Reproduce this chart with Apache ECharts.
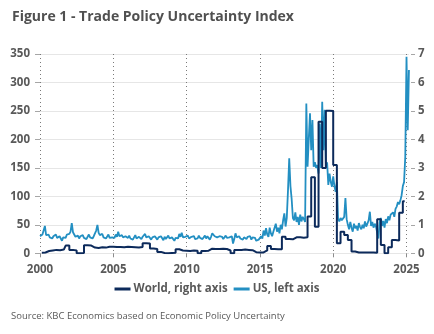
<!DOCTYPE html>
<html>
<head>
<meta charset="utf-8">
<script src="https://cdn.jsdelivr.net/npm/echarts@6/dist/echarts.min.js"></script>
<style>
  html, body { margin: 0; padding: 0; background: #ffffff; }
  #chart { width: 434px; height: 334px; }
</style>
</head>
<body>
<div id="chart"></div>
<script>
// US trade policy uncertainty, monthly from Jan 2000 (left axis)
const usStartYear = 2000;
const usMonthly = [
  // 2000
  30, 27, 33, 36, 48, 32, 29, 33, 28, 31, 26, 30,
  // 2001
  29, 33, 27, 24, 30, 26, 22, 28, 31, 27, 33, 30,
  // 2002
  34, 38, 53, 37, 33, 29, 27, 31, 26, 30, 28, 32,
  // 2003
  27, 30, 25, 29, 33, 28, 31, 26, 30, 35, 40, 50,
  // 2004
  36, 32, 30, 34, 28, 31, 26, 29, 33, 27, 30, 28,
  // 2005
  31, 27, 33, 29, 38, 30, 27, 32, 28, 26, 30, 29,
  // 2006
  27, 31, 26, 29, 24, 28, 32, 26, 23, 29, 27, 25,
  // 2007
  29, 26, 34, 28, 25, 30, 27, 24, 28, 26, 30, 27,
  // 2008
  24, 28, 26, 30, 27, 23, 29, 25, 28, 31, 26, 24,
  // 2009
  28, 25, 22, 27, 30, 26, 34, 29, 36, 28, 25, 29,
  // 2010
  27, 31, 26, 24, 29, 27, 30, 25, 28, 26, 31, 27,
  // 2011
  29, 25, 28, 31, 26, 30, 27, 24, 29, 35, 37, 30,
  // 2012
  33, 28, 26, 30, 27, 29, 25, 28, 31, 27, 24, 28,
  // 2013
  26, 30, 17, 25, 35, 28, 27, 30, 26, 29, 24, 28,
  // 2014
  27, 25, 29, 26, 30, 24, 28, 25, 27, 22, 20, 24,
  // 2015
  24, 30, 26, 40, 31, 44, 33, 29, 45, 35, 30, 38,
  // 2016
  40, 52, 38, 45, 35, 50, 42, 58, 70, 47, 62, 111,
  // 2017
  167, 118, 95, 62, 58, 72, 55, 64, 50, 68, 56, 64,
  // 2018
  60, 55, 263, 152, 200, 246, 181, 234, 152, 160, 150, 155,
  // 2019
  140, 228, 150, 266, 181, 252, 152, 160, 120, 140, 125, 117,
  // 2020
  135, 118, 108, 125, 60, 56, 62, 58, 55, 64, 97, 60,
  // 2021
  50, 42, 55, 45, 38, 52, 44, 48, 40, 53, 46, 42,
  // 2022
  50, 44, 56, 47, 52, 58, 73, 48, 55, 45, 52, 47,
  // 2023
  50, 26, 55, 62, 48, 57, 45, 60, 53, 65, 58, 68,
  // 2024
  66, 72, 64, 78, 82, 90, 86, 93, 102, 118, 125, 170,
  // 2025
  345, 216, 322
];

// World trade uncertainty, quarterly from 2000 Q1 (right axis)
const worldStartYear = 2000;
const worldQuarterly = [
  0.02, 0.03, 0.08, 0.10,   // 2000
  0.12, 0.11, 0.13, 0.27,   // 2001
  0.12, 0.10, 0.00, 0.01,   // 2002
  0.28, 0.27, 0.20, 0.19,   // 2003
  0.21, 0.20, 0.23, 0.23,   // 2004
  0.22, 0.22, 0.21, 0.23,   // 2005
  0.22, 0.21, 0.20, 0.22,   // 2006
  0.35, 0.34, 0.17, 0.15,   // 2007
  0.05, 0.01, 0.00, 0.01,   // 2008
  0.02, 0.14, 0.10, 0.09,   // 2009
  0.08, 0.10, 0.09, 0.00,   // 2010
  0.08, 0.09, 0.16, 0.15,   // 2011
  0.15, 0.16, 0.15, 0.10,   // 2012
  0.00, 0.12, 0.12, 0.13,   // 2013
  0.12, 0.11, 0.04, 0.03,   // 2014
  0.03, 0.10, 0.26, 0.15,   // 2015
  0.14, 0.14, 0.58, 0.50,   // 2016
  0.49, 0.56, 0.56, 0.55,   // 2017
  0.56, 1.29, 2.67, 0.93,   // 2018
  4.62, 3.00, 5.01, 5.00,   // 2019
  3.10, 0.35, 0.76, 0.64,   // 2020
  0.47, 0.06, 0.03, 0.03,   // 2021
  0.03, 0.03, 0.03, 0.02,   // 2022
  1.20, 0.29, 0.00, 0.21,   // 2023
  0.47, 0.45, 1.42, 1.83    // 2024
];

const xTicks = [2000, 2005, 2010, 2015, 2020, 2025];
const leftTicks = [0, 50, 100, 150, 200, 250, 300, 350];
const rightTicks = [0, 1, 2, 3, 4, 5, 6, 7];

const US_NAME = 'US, left axis';
const WORLD_NAME = 'World, right axis';

// monthly points sit at the start of each month, quarterly points mid-quarter
const usData = usMonthly.map((v, i) => [usStartYear + i / 12, v]);
const worldData = worldQuarterly.map((v, i) => [worldStartYear + 0.125 + i * 0.25, v]);

const FONT = 'Open Sans';
const TEXT = '#595959';

const chart = echarts.init(document.getElementById('chart'), null, { renderer: 'canvas' });

chart.setOption({
  animation: false,
  backgroundColor: '#ffffff',
  textStyle: { fontFamily: FONT },
  title: {
    text: 'Figure 1 - Trade Policy Uncertainty Index',
    left: 7,
    top: 5,
    textStyle: { fontFamily: FONT, fontSize: 14, fontWeight: 'bold', color: '#505050' }
  },
  grid: { left: 40, right: 25, top: 54, bottom: 80.7, containLabel: false },
  legend: {
    data: [WORLD_NAME, US_NAME],
    bottom: 34,
    left: 'center',
    icon: 'rect',
    itemWidth: 16,
    itemHeight: 3,
    itemGap: 6,
    textStyle: { fontFamily: FONT, fontSize: 11.5, fontWeight: 'bold', color: TEXT, padding: [0, 0, 0, -2] }
  },
  graphic: [{
    type: 'text',
    left: 11,
    top: 311,
    style: {
      text: 'Source: KBC Economics based on Economic Policy Uncertainty',
      font: '9.5px "' + FONT + '"',
      fill: '#595959'
    }
  }],
  xAxis: {
    type: 'value',
    min: 2000,
    max: 2025.17,
    interval: 5,
    axisLine: { show: false },
    axisTick: { show: true, length: 4, lineStyle: { color: '#8c8c8c' },
      customValues: xTicks },
    axisLabel: {
      margin: 10,
      fontFamily: FONT, fontSize: 11.5, fontWeight: 'bold', color: TEXT,
      customValues: xTicks,
      formatter: v => String(v)
    },
    splitLine: { show: true, lineStyle: { type: [1, 3], color: '#7a7a7a', width: 1 } }
  },
  yAxis: [{
    type: 'value',
    min: 0,
    max: 350,
    interval: 50,
    position: 'left',
    axisLine: { show: false },
    axisTick: { show: true, length: 5, lineStyle: { color: '#a6a6a6' }, customValues: leftTicks },
    axisLabel: { margin: 10, fontFamily: FONT, fontSize: 11.5, fontWeight: 'bold', color: TEXT, customValues: leftTicks },
    splitLine: { show: true, lineStyle: { color: '#e6e6e6', width: 1.2 } }
  }, {
    type: 'value',
    min: 0,
    max: 7,
    interval: 1,
    position: 'right',
    offset: 2,
    axisLine: { show: false },
    axisTick: { show: true, length: 4, lineStyle: { color: '#a6a6a6' }, customValues: rightTicks },
    axisLabel: { margin: 7, fontFamily: FONT, fontSize: 11.5, fontWeight: 'bold', color: TEXT, customValues: rightTicks },
    splitLine: { show: false }
  }],
  series: [{
    name: US_NAME,
    type: 'line',
    yAxisIndex: 0,
    data: usData,
    showSymbol: false,
    symbol: 'none',
    lineStyle: { color: '#238fc2', width: 1.8 },
    itemStyle: { color: '#238fc2' },
    z: 2
  }, {
    name: WORLD_NAME,
    type: 'line',
    yAxisIndex: 1,
    data: worldData,
    step: 'middle',
    showSymbol: false,
    symbol: 'none',
    lineStyle: { color: '#0c2a5b', width: 2 },
    itemStyle: { color: '#0c2a5b' },
    z: 3
  }]
});
</script>
</body>
</html>
